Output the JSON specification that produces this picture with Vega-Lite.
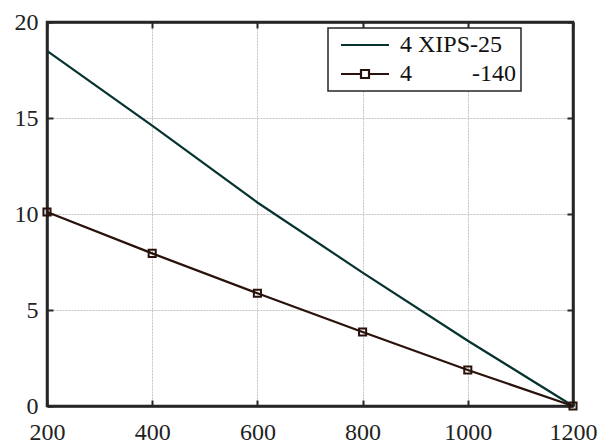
{
  "$schema": "https://vega.github.io/schema/vega-lite/v6.json",
  "width": 526,
  "height": 384,
  "autosize": {"type": "none"},
  "padding": {"left": 47, "top": 22, "right": 32, "bottom": 40},
  "background": "white",
  "config": {
    "view": {"stroke": "#262626", "strokeWidth": 2.5},
    "font": "Liberation Serif",
    "axis": {
      "labelFont": "Liberation Serif",
      "labelFontSize": 24,
      "labelColor": "#222222",
      "domainColor": "#262626",
      "domainWidth": 2.5,
      "tickColor": "#262626",
      "tickWidth": 2,
      "tickSize": -6,
      "gridColor": "#c4c4c4",
      "gridDash": [2, 1],
      "gridWidth": 1,
      "title": null,
      "format": "d"
    },
    "legend": {"labelFont": "Liberation Serif"}
  },
  "data": {
    "values": [
      {"x": 200, "y": 18.5, "s": "A"},
      {"x": 400, "y": 14.6, "s": "A"},
      {"x": 600, "y": 10.6, "s": "A"},
      {"x": 800, "y": 6.95, "s": "A"},
      {"x": 1000, "y": 3.4, "s": "A"},
      {"x": 1200, "y": 0, "s": "A"},
      {"x": 200, "y": 10.1, "s": "B"},
      {"x": 400, "y": 7.95, "s": "B"},
      {"x": 600, "y": 5.87, "s": "B"},
      {"x": 800, "y": 3.85, "s": "B"},
      {"x": 1000, "y": 1.875, "s": "B"},
      {"x": 1200, "y": 0, "s": "B"}
    ]
  },
  "layer": [
    {
      "mark": {"type": "line", "strokeWidth": 2.2, "clip": false},
      "encoding": {
        "x": {"field": "x", "type": "quantitative", "scale": {"domain": [200, 1200], "nice": false, "zero": false},
              "axis": {"orient": "bottom", "values": [200, 400, 600, 800, 1000, 1200], "grid": true, "labelPadding": 20, "labelFlush": false, "format": "d", "labelFont": "Liberation Serif"}},
        "y": {"field": "y", "type": "quantitative", "scale": {"domain": [0, 20], "nice": false},
              "axis": {"orient": "left", "values": [0, 5, 10, 15, 20], "grid": true, "labelPadding": 15, "format": "d", "labelFont": "Liberation Serif"}},
        "color": {
          "field": "s", "type": "nominal",
          "scale": {"domain": ["A", "B"], "range": ["#06332f", "#2a120c"]},
          "legend": {
            "orient": "none",
            "legendX": 281,
            "legendY": 6,
            "title": null,
            "padding": 5,
            "strokeColor": "#262626",
            "fillColor": "white",
            "labelFont": "Liberation Serif",
            "labelFontSize": 24,
            "labelColor": "#111111",
            "labelExpr": "datum.value === 'A' ? '4 XIPS-25' : '4\u00a0\u00a0\u00a0\u00a0\u00a0\u00a0\u00a0\u00a0\u00a0\u00a0-140'",
            "labelOffset": 43,
            "symbolSize": 64,
            "symbolStrokeWidth": 2.2,
            "rowPadding": 5,
            "labelLimit": 300,
            "encode": {
              "legend": {"update": {"strokeWidth": {"value": 1.5}}},
              "symbols": {
                "update": {
                  "shape": {"signal": "datum.value === 'B' ? 'M-1,0H4M6,0H11M4,-1H6V1H4Z' : 'M-1,0H11'"},
                  "fill": {"value": "transparent"}
                }
              }
            }
          }
        }
      }
    },
    {
      "transform": [{"filter": "datum.s === 'B'"}],
      "mark": {"type": "point", "shape": "square", "filled": false, "size": 50, "strokeWidth": 2, "color": "#2a120c", "opacity": 1, "clip": false},
      "encoding": {
        "x": {"field": "x", "type": "quantitative",
              "axis": {"orient": "top", "values": [200, 400, 600, 800, 1000, 1200], "labels": false, "grid": false}},
        "y": {"field": "y", "type": "quantitative",
              "axis": {"orient": "right", "values": [0, 5, 10, 15, 20], "labels": false, "grid": false}}
      }
    }
  ],
  "resolve": {"axis": {"x": "independent", "y": "independent"}}
}
